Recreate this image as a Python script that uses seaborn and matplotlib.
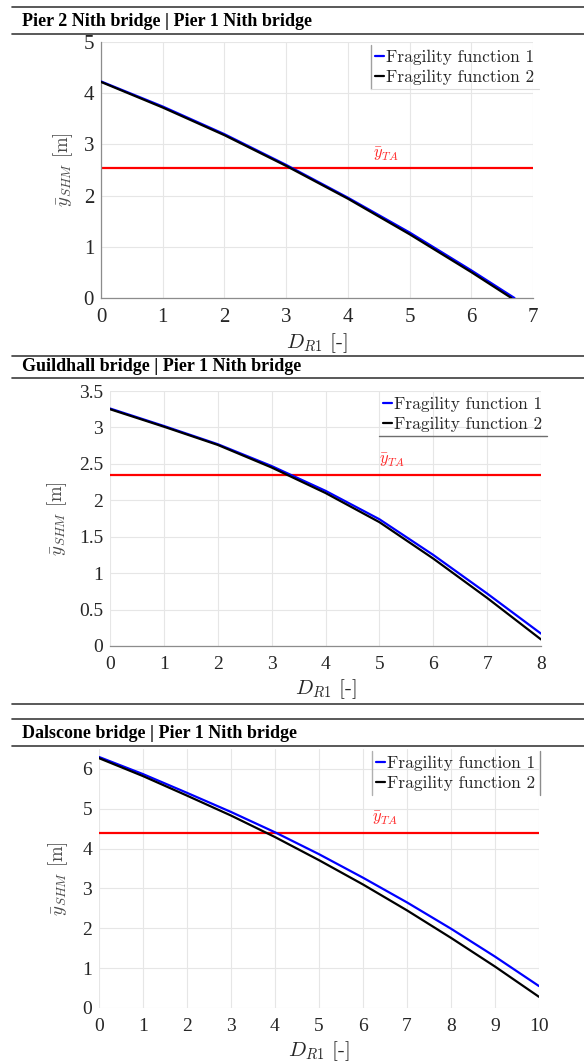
import matplotlib
matplotlib.use("Agg")
import matplotlib.pyplot as plt
from matplotlib.lines import Line2D
import pandas as pd
import seaborn as sns

# ---------------- data ----------------
titles = ["Pier 2 Nith bridge | Pier 1 Nith bridge",
          "Guildhall bridge | Pier 1 Nith bridge",
          "Dalscone bridge | Pier 1 Nith bridge"]
series_names = ["Fragility function 1", "Fragility function 2"]

p1_x_ff1 = [0, 1, 2, 3, 4, 5, 6, 6.70]
p1_y_ff1 = [4.23, 3.74, 3.20, 2.60, 1.96, 1.28, 0.54, 0.0]
p1_x_ff2 = [0, 1, 2, 3, 4, 5, 6, 6.65]
p1_y_ff2 = [4.22, 3.72, 3.18, 2.58, 1.94, 1.245, 0.505, 0.0]
p1_threshold = 2.53
p1_xticks = [0, 1, 2, 3, 4, 5, 6, 7]
p1_yticks = [0, 1, 2, 3, 4, 5]

p2_x = [0, 1, 2, 3, 4, 5, 6, 7, 8]
p2_y_ff1 = [3.26, 3.02, 2.77, 2.47, 2.13, 1.74, 1.25, 0.72, 0.17]
p2_y_ff2 = [3.25, 3.01, 2.76, 2.45, 2.10, 1.70, 1.20, 0.66, 0.09]
p2_threshold = 2.35
p2_xticks = [0, 1, 2, 3, 4, 5, 6, 7, 8]
p2_yticks = [0, 0.5, 1, 1.5, 2, 2.5, 3, 3.5]

p3_x = [0, 1, 2, 3, 4, 5, 6, 7, 8, 9, 10]
p3_y_ff1 = [6.30, 5.87, 5.40, 4.92, 4.41, 3.86, 3.27, 2.65, 1.99, 1.29, 0.55]
p3_y_ff2 = [6.27, 5.82, 5.33, 4.83, 4.29, 3.71, 3.10, 2.45, 1.76, 1.04, 0.28]
p3_threshold = 4.40
p3_xticks = [0, 1, 2, 3, 4, 5, 6, 7, 8, 9, 10]
p3_yticks = [0, 1, 2, 3, 4, 5, 6]

# ---------------- style ----------------
sns.set_theme(style="white")
plt.rcParams['font.family'] = ['Liberation Serif', 'DejaVu Serif']
plt.rcParams['mathtext.fontset'] = 'cm'

W, H = 584, 1061
fig = plt.figure(figsize=(W / 100, H / 100), dpi=100)


def fx(px):
    return px / W


def fy(py):
    return 1 - py / H


def add_ax(left, right, top, bottom):
    return fig.add_axes([fx(left), fy(bottom), (right - left) / W, (bottom - top) / H])


def rule(y):
    fig.add_artist(Line2D([fx(12), 1.0], [fy(y), fy(y)], color='#3c3c3c', lw=1.2,
                          transform=fig.transFigure))


def header(y_text, text):
    fig.text(fx(22), fy(y_text), text, fontweight='bold', fontsize=13,
             va='center', ha='left', color='black', family='Liberation Serif')


palette = {series_names[0]: '#0000ff', series_names[1]: '#000000'}


def panel(ax, xs1, ys1, xs2, ys2, thr, xlim, ylim, xticks, yticks, tsize,
          spines, thr_label_x, left_px, right_px, ylabel_px):
    df = pd.concat([
        pd.DataFrame({'x': xs1, 'y': ys1, 'series': series_names[0]}),
        pd.DataFrame({'x': xs2, 'y': ys2, 'series': series_names[1]}),
    ], ignore_index=True)
    ax.axhline(thr, color='#ff0000', lw=1.6, zorder=1)
    sns.lineplot(data=df, x='x', y='y', hue='series', palette=palette,
                 sort=False, estimator=None, lw=1.6, ax=ax, zorder=3)
    ax.text(thr_label_x, thr + (ylim[1] - ylim[0]) * 0.022, r'$\bar{y}_{TA}$',
            color='#ff2a2a', fontsize=12, va='bottom', ha='left')
    ax.set_xlim(*xlim)
    ax.set_ylim(*ylim)
    ax.set_xticks(xticks)
    ax.set_yticks(yticks)
    ax.set_xticklabels([f"{v:g}" for v in xticks])
    ax.set_yticklabels([f"{v:g}" for v in yticks])
    ax.grid(True, color='#e6e6e6', lw=0.8)
    ax.set_axisbelow(True)
    for side in ['top', 'right', 'left', 'bottom']:
        ax.spines[side].set_visible(side in spines)
        ax.spines[side].set_color('#8c8c8c')
        ax.spines[side].set_linewidth(0.9)
    ax.tick_params(axis='both', labelsize=tsize, colors='#8c8c8c',
                   labelcolor='#262626', direction='in', length=3, width=0.8,
                   pad=5)
    ax.tick_params(axis='x', pad=7)
    ax.set_xlabel(r'$D_{R1}$ [-]', family='cmr10', fontsize=15, color='#262626',
                  labelpad=3)
    ax.set_ylabel(r'$\bar{y}_{SHM}$ [m]', family='cmr10', fontsize=13.5,
                  color='#4a4a4a')
    ax.yaxis.set_label_coords((ylabel_px - left_px) / (right_px - left_px), 0.5)
    if ax.get_legend() is not None:
        ax.get_legend().remove()


def legend(ax, x_px, y_px):
    h, l = ax.get_legend_handles_labels()
    leg = ax.legend(h, l, loc='upper left', bbox_to_anchor=(fx(x_px), fy(y_px)),
                    bbox_transform=fig.transFigure, frameon=False,
                    handlelength=0.5, handletextpad=0.12, borderpad=0.25,
                    labelspacing=0.28, borderaxespad=0,
                    prop={'family': 'cmr10', 'size': 12.5})
    for t in leg.get_texts():
        t.set_color('#262626')
    for line in leg.get_lines():
        line.set_linewidth(1.6)
    return leg


# ---------------- headers ----------------
rule(7)
header(21, titles[0])
rule(34)
rule(356)
header(366, titles[1])
rule(378)
rule(704)
rule(719)
header(733, titles[2])
rule(746)

# ---------------- panel 1 ----------------
L1, R1 = 101, 533
ax1 = add_ax(L1, R1, 42, 298)
panel(ax1, p1_x_ff1, p1_y_ff1, p1_x_ff2, p1_y_ff2, p1_threshold, (0, 7), (0, 5),
      p1_xticks, p1_yticks, 15, ['left', 'bottom'], 4.4, L1, R1, 75)
leg1 = legend(ax1, 371, 45)

# ---------------- panel 2 ----------------
L2, R2 = 110, 541
ax2 = add_ax(L2, R2, 391, 646)
panel(ax2, p2_x, p2_y_ff1, p2_x, p2_y_ff2, p2_threshold, (0, 8), (0, 3.5),
      p2_xticks, p2_yticks, 14, ['bottom'], 5.0, L2, R2, 69)
leg2 = legend(ax2, 379, 392)

# ---------------- panel 3 ----------------
L3, R3 = 99, 539
ax3 = add_ax(L3, R3, 749, 1008)
panel(ax3, p3_x, p3_y_ff1, p3_x, p3_y_ff2, p3_threshold, (0, 10), (0, 6.5),
      p3_xticks, p3_yticks, 14, [], 6.2, L3, R3, 70)
leg3 = legend(ax3, 372, 751)

# ---------------- partial legend borders ----------------
fig.canvas.draw()
inv = fig.transFigure.inverted()


def leg_box(leg):
    bb = leg.get_window_extent()
    (x0, y0), (x1, y1) = inv.transform([[bb.x0, bb.y0], [bb.x1, bb.y1]])
    return x0, y0, x1, y1


x0, y0, x1, y1 = leg_box(leg1)
fig.add_artist(Line2D([x0, x0], [y0, y1], color='#a0a0a0', lw=1.0, transform=fig.transFigure))
fig.add_artist(Line2D([x0, x1], [y0, y0], color='#dcdcdc', lw=0.8, transform=fig.transFigure))

x0, y0, x1, y1 = leg_box(leg2)
fig.add_artist(Line2D([x0, x1], [y0, y0], color='#6e6e6e', lw=1.0, transform=fig.transFigure))

x0, y0, x1, y1 = leg_box(leg3)
fig.add_artist(Line2D([x0, x0], [y0, y1], color='#b0b0b0', lw=1.0, transform=fig.transFigure))
fig.add_artist(Line2D([x1, x1], [y0, y1], color='#8c8c8c', lw=1.0, transform=fig.transFigure))

fig.savefig('out.png', dpi=100)
